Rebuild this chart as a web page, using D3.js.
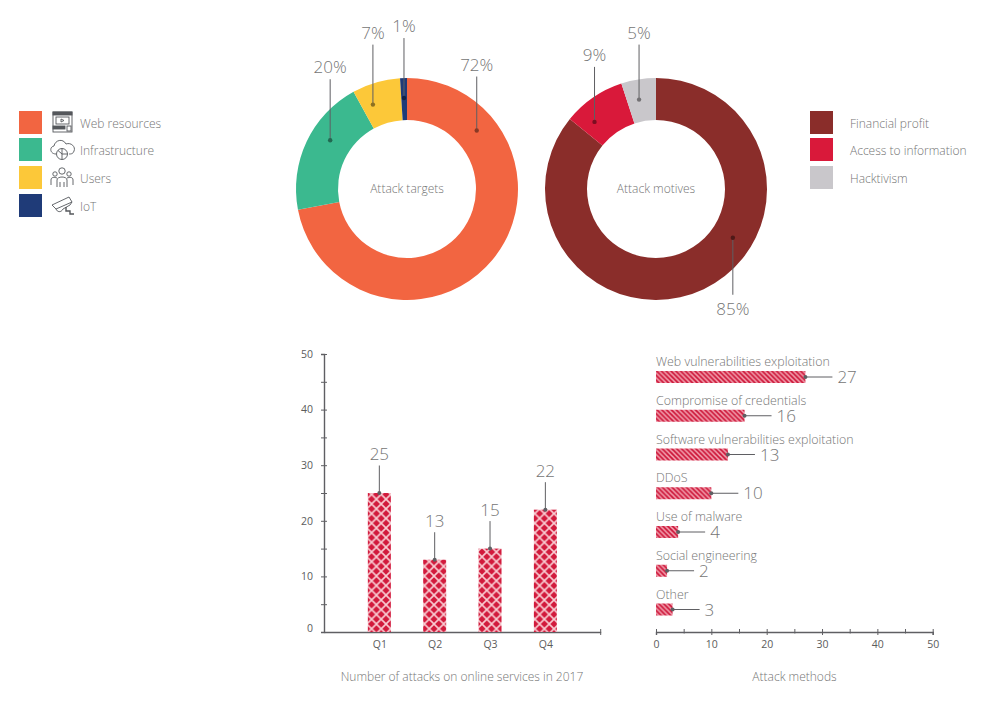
<!DOCTYPE html>
<html>
<head>
<meta charset="utf-8">
<script src="https://cdn.jsdelivr.net/npm/d3@7"></script>
<style>
  html, body { margin: 0; padding: 0; background: #fff; }
  svg { display: block; }
  text { font-family: "Open Sans", sans-serif; fill: #757575; }
</style>
</head>
<body>
<svg id="chart" width="990" height="710"></svg>
<script>
// Donut data
const targetNames = ['Web resources', 'Infrastructure', 'Users', 'IoT'];
const targetValues = [72, 20, 7, 1];
const targetColors = ['#f26541', '#3bb98f', '#fcc839', '#1f3b78'];

const motiveNames = ['Financial profit', 'Access to information', 'Hacktivism'];
const motiveValues = [85, 9, 5];
const motiveColors = ['#8a2d2a', '#d9193a', '#c9c7cb'];

// Bars
const quarters = ['Q1', 'Q2', 'Q3', 'Q4'];
const quarterValues = [25, 13, 15, 22];

const methodNames = [
  'Web vulnerabilities exploitation',
  'Compromise of credentials',
  'Software vulnerabilities exploitation',
  'DDoS',
  'Use of malware',
  'Social engineering',
  'Other'
];
const methodValues = [27, 16, 13, 10, 4, 2, 3];

const axisTicks = [0, 5, 10, 15, 20, 25, 30, 35, 40, 45, 50];

// Where each leader sits on its slice (0-1 along the slice) and how far it rises
const targetLeaderAt = [0.193, 0.6, 0.27, 0.47];
const targetLeaderLen = [54, 61, 60, 60];
const motiveLeaderAt = [0.396, 0.257, 0.41];
const motiveLeaderLen = [57, 55, 55];

const svg = d3.select('#chart');
const lineColor = '#5f5f63';

// Fill patterns
const defs = svg.append('defs');

const hatch = defs.append('pattern')
  .attr('id', 'hatch')
  .attr('patternUnits', 'userSpaceOnUse')
  .attr('width', 9.6)
  .attr('height', 9.6)
  .attr('x', 2);
hatch.append('rect').attr('width', 9.6).attr('height', 9.6).attr('fill', '#d21a3c');
hatch.append('path')
  .attr('d', 'M0,0L9.6,9.6M9.6,0L0,9.6')
  .attr('stroke', '#f9cdd3')
  .attr('stroke-width', 1.6);

const stripes = defs.append('pattern')
  .attr('id', 'stripes')
  .attr('patternUnits', 'userSpaceOnUse')
  .attr('width', 4.8)
  .attr('height', 4.8);
stripes.append('rect').attr('width', 4.8).attr('height', 4.8).attr('fill', '#cf1d3f');
stripes.append('path')
  .attr('d', 'M-1,-1L5.8,5.8M-1,3.8L1,5.8M3.8,-1L5.8,1')
  .attr('stroke', '#f4a9b6')
  .attr('stroke-width', 1.5);

function drawDonut(cx, cy, title, values, colors, leaderAt, leaderLen) {
  const g = svg.append('g').attr('transform', `translate(${cx},${cy})`);
  const arcs = d3.pie().sort(null)(values);
  const arc = d3.arc().innerRadius(69).outerRadius(111);

  g.selectAll('path.slice')
    .data(arcs)
    .join('path')
    .attr('class', 'slice')
    .attr('d', arc)
    .attr('fill', (d, i) => colors[i]);

  g.append('text')
    .attr('y', 4)
    .attr('text-anchor', 'middle')
    .attr('font-size', 12)
    .attr('font-weight', 300)
    .text(title);

  arcs.forEach((d, i) => {
    const a = d.startAngle + leaderAt[i] * (d.endAngle - d.startAngle);
    const x = Math.sin(a) * 91;
    const y = -Math.cos(a) * 91;
    // the big motive slice is labelled below the ring, the others above
    const dir = y > 0 ? 1 : -1;
    const end = y + dir * leaderLen[i];
    g.append('line')
      .attr('x1', x).attr('y1', y)
      .attr('x2', x).attr('y2', end)
      .attr('stroke', lineColor)
      .attr('stroke-width', 1);
    g.append('circle')
      .attr('cx', x).attr('cy', y).attr('r', 2.2)
      .attr('fill', d3.color(colors[i]).darker(1.6));
    g.append('text')
      .attr('x', x)
      .attr('y', dir > 0 ? end + 20 : end - 6)
      .attr('text-anchor', 'middle')
      .attr('font-size', 17)
      .attr('font-weight', 300)
      .text(d.value + '%');
  });
}

drawDonut(407, 189, 'Attack targets', targetValues, targetColors, targetLeaderAt, targetLeaderLen);
drawDonut(656, 189, 'Attack motives', motiveValues, motiveColors, motiveLeaderAt, motiveLeaderLen);

// Legends
function drawLegend(x, textX, y0, names, colors, steps) {
  const g = svg.append('g');
  names.forEach((name, i) => {
    const y = y0 + steps[i];
    g.append('rect')
      .attr('x', x).attr('y', y)
      .attr('width', 23).attr('height', 23)
      .attr('fill', colors[i]);
    g.append('text')
      .attr('x', textX).attr('y', y + 17)
      .attr('font-size', 12)
      .attr('font-weight', 300)
      .text(name);
  });
}

drawLegend(19, 80, 111, targetNames, targetColors, [0, 27, 55, 83]);
drawLegend(810, 850, 111, motiveNames, motiveColors, [0, 27, 55]);

// Little line icons beside the left legend
function iconGroup(x, y) {
  return svg.append('g')
    .attr('transform', `translate(${x},${y})`)
    .attr('fill', 'none')
    .attr('stroke', '#55585c')
    .attr('stroke-width', 0.9);
}

const webIcon = iconGroup(53, 112);
webIcon.append('rect').attr('width', 19).attr('height', 20);
webIcon.append('rect').attr('width', 19).attr('height', 3).attr('fill', '#55585c');
webIcon.append('rect').attr('x', 3).attr('y', 5).attr('width', 13).attr('height', 7);
webIcon.append('path').attr('d', 'M8,7L11,8.5L8,10Z');
webIcon.append('rect').attr('y', 14).attr('width', 12).attr('height', 3).attr('fill', '#55585c');
webIcon.append('rect').attr('x', 14).attr('y', 14).attr('width', 4).attr('height', 5);

const cloudIcon = iconGroup(50, 139);
cloudIcon.append('path')
  .attr('d', 'M6,15C0,15 -1,8 4,7C5,1 13,-1 16,5C21,3 26,8 24,12C23,15 21,15 19,15');
cloudIcon.append('circle').attr('cx', 12).attr('cy', 15).attr('r', 5.5);
cloudIcon.append('path').attr('d', 'M12,9.5V20.5M12,15L8,11.5M12,15H17.5');

const usersIcon = iconGroup(51, 167);
usersIcon.append('circle').attr('cx', 11).attr('cy', 4).attr('r', 3.2);
usersIcon.append('circle').attr('cx', 4).attr('cy', 7).attr('r', 2.2);
usersIcon.append('circle').attr('cx', 18).attr('cy', 7).attr('r', 2.2);
usersIcon.append('path').attr('d', 'M6,20V13C6,9 16,9 16,13V20M9,15V20M13,15V20');
usersIcon.append('path').attr('d', 'M0,18V13C0,10 3,10 6,11M22,18V13C22,10 19,10 16,11');

const camIcon = iconGroup(51, 195);
camIcon.append('path').attr('d', 'M1,10L18,2L21,7L5,14Z');
camIcon.append('path').attr('d', 'M5,14C6,17 10,18 12,14L19,10L21,7');
camIcon.append('path').attr('d', 'M15,12V16H19V19H23').attr('stroke-width', 1.4);

// Quarterly bars
const barY = d3.scaleLinear().domain([0, 50]).range([632, 354]);
const barX = d3.scalePoint().domain(quarters).range([324, 600.7]).padding(1);
const barWidth = 23;

const yAxis = svg.append('g')
  .attr('transform', 'translate(324,0)')
  .call(d3.axisLeft(barY)
    .tickValues(axisTicks)
    .tickFormat(d => d % 10 === 0 ? d : '')
    .tickSize(3)
    .tickPadding(8));

yAxis.selectAll('.tick line').attr('x2', 3).attr('x1', -3);
yAxis.selectAll('.tick').filter(d => d === 0).select('text').attr('dy', '-0.05em');

const xAxis = svg.append('g')
  .attr('transform', 'translate(0,632)')
  .call(d3.axisBottom(barX).tickSize(0).tickPadding(9));

svg.append('line')
  .attr('x1', 600.7).attr('x2', 600.7)
  .attr('y1', 629).attr('y2', 635)
  .attr('stroke', lineColor);

const quarterBars = svg.append('g');
quarterBars.selectAll('rect')
  .data(quarterValues)
  .join('rect')
  .attr('x', (d, i) => barX(quarters[i]) - barWidth / 2)
  .attr('y', d => barY(d))
  .attr('width', barWidth)
  .attr('height', d => barY(0) - barY(d))
  .attr('fill', 'url(#hatch)');

quarterBars.selectAll('line')
  .data(quarterValues)
  .join('line')
  .attr('x1', (d, i) => barX(quarters[i]))
  .attr('x2', (d, i) => barX(quarters[i]))
  .attr('y1', d => barY(d))
  .attr('y2', d => barY(d) - 27.5)
  .attr('stroke', lineColor);

quarterBars.selectAll('circle')
  .data(quarterValues)
  .join('circle')
  .attr('cx', (d, i) => barX(quarters[i]))
  .attr('cy', d => barY(d))
  .attr('r', 2)
  .attr('fill', lineColor);

quarterBars.selectAll('text')
  .data(quarterValues)
  .join('text')
  .attr('x', (d, i) => barX(quarters[i]))
  .attr('y', d => barY(d) - 33)
  .attr('text-anchor', 'middle')
  .attr('font-size', 17)
  .attr('font-weight', 300)
  .text(d => d);

// Attack methods bars
const methodX = d3.scaleLinear().domain([0, 50]).range([656, 932.7]);
const methodY = d3.scalePoint().domain(methodNames).range([377, 609.5]);
const methodHeight = 12;

const methodAxis = svg.append('g')
  .attr('transform', 'translate(0,632)')
  .call(d3.axisBottom(methodX)
    .tickValues(axisTicks)
    .tickFormat(d => d % 10 === 0 ? d : '')
    .tickSize(3)
    .tickPadding(6));

methodAxis.selectAll('.tick line')
  .attr('y1', -3)
  .attr('y2', d => d % 10 === 0 ? 3 : 1.5);

const methods = svg.append('g');
methods.selectAll('rect')
  .data(methodValues)
  .join('rect')
  .attr('x', methodX(0))
  .attr('y', (d, i) => methodY(methodNames[i]) - methodHeight / 2)
  .attr('width', d => methodX(d) - methodX(0))
  .attr('height', methodHeight)
  .attr('fill', 'url(#stripes)');

methods.selectAll('line')
  .data(methodValues)
  .join('line')
  .attr('x1', d => methodX(d))
  .attr('x2', d => methodX(d) + 27)
  .attr('y1', (d, i) => methodY(methodNames[i]))
  .attr('y2', (d, i) => methodY(methodNames[i]))
  .attr('stroke', lineColor);

methods.selectAll('circle')
  .data(methodValues)
  .join('circle')
  .attr('cx', d => methodX(d))
  .attr('cy', (d, i) => methodY(methodNames[i]))
  .attr('r', 2)
  .attr('fill', lineColor);

methods.selectAll('text.value')
  .data(methodValues)
  .join('text')
  .attr('class', 'value')
  .attr('x', d => methodX(d) + 32)
  .attr('y', (d, i) => methodY(methodNames[i]) + 6)
  .attr('font-size', 17)
  .attr('font-weight', 300)
  .text(d => d);

methods.selectAll('text.name')
  .data(methodNames)
  .join('text')
  .attr('class', 'name')
  .attr('x', methodX(0))
  .attr('y', d => methodY(d) - 11)
  .attr('font-size', 12.4)
  .attr('font-weight', 300)
  .text(d => d);

// Axis styling shared by all three axes
[yAxis, xAxis, methodAxis].forEach(a => {
  a.selectAll('.domain').attr('stroke', lineColor).attr('stroke-width', 1.4);
  a.selectAll('.tick line').attr('stroke', lineColor);
  a.selectAll('.tick text')
    .attr('font-family', '"Open Sans", sans-serif')
    .attr('font-size', 10.5)
    .style('fill', '#5c5c5c');
});

// Captions
svg.append('text')
  .attr('x', 462).attr('y', 681)
  .attr('text-anchor', 'middle')
  .attr('font-size', 12)
  .attr('font-weight', 300)
  .text('Number of attacks on online services in 2017');

svg.append('text')
  .attr('x', 794.5).attr('y', 681)
  .attr('text-anchor', 'middle')
  .attr('font-size', 12)
  .attr('font-weight', 300)
  .text('Attack methods');
</script>
</body>
</html>
